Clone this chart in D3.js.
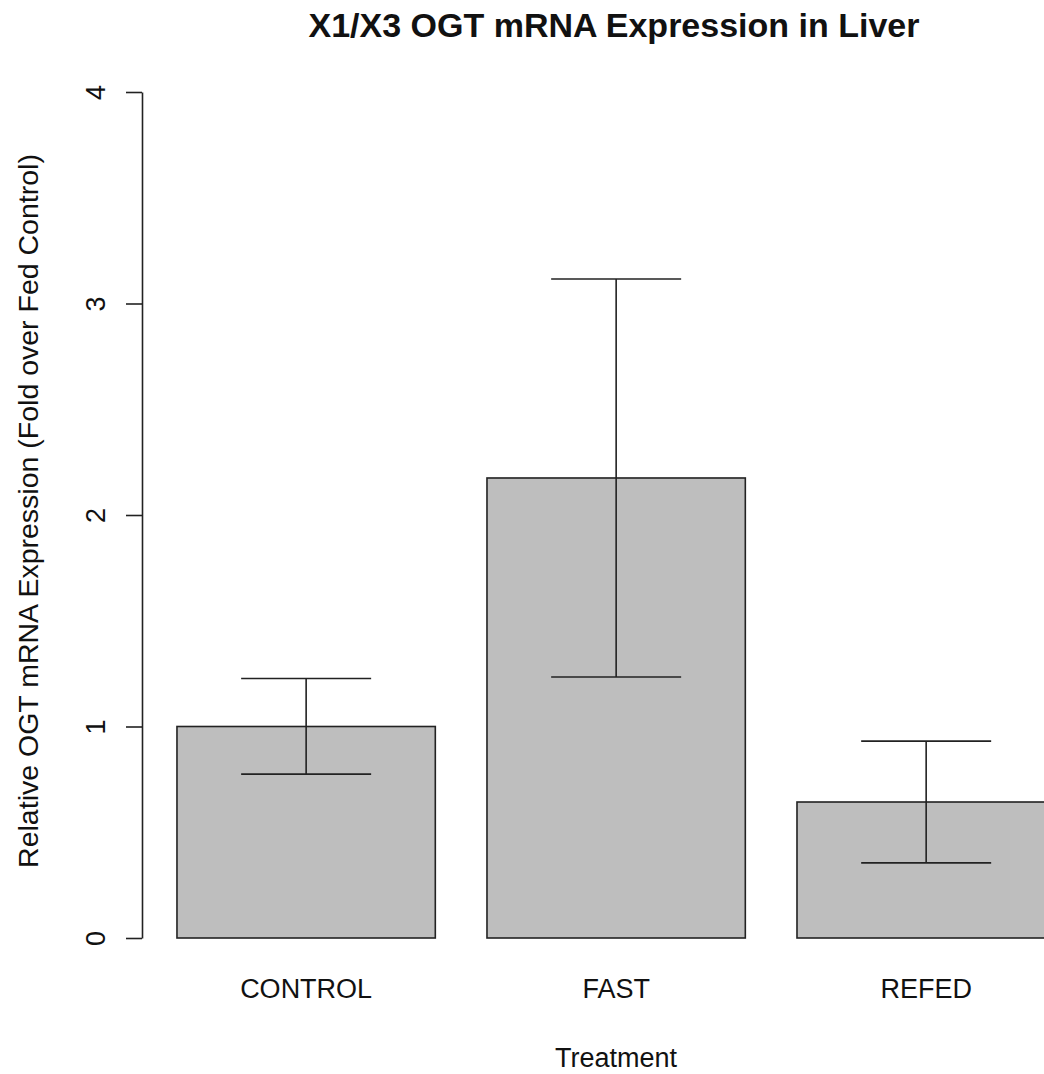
<!DOCTYPE html>
<html>
<head>
<meta charset="utf-8">
<script src="https://cdn.jsdelivr.net/npm/d3@7"></script>
<style>
  body { margin: 0; background: #fff; }
  svg text { font-family: "Liberation Sans", Arial, sans-serif; fill: #111; }
</style>
</head>
<body>
<div id="chart"></div>
<script>
// data
var categories = ["CONTROL", "FAST", "REFED"];
var means = [1.0, 2.175, 0.643];
var upper = [1.227, 3.116, 0.931];
var lower = [0.775, 1.234, 0.355];
var yTicks = [0, 1, 2, 3, 4];

var width = 1044, height = 1074;

var svg = d3.select("#chart")
  .append("svg")
  .attr("width", width)
  .attr("height", height);

// y scale: 0 at 938px, 4 at 92px
var y = d3.scaleLinear()
  .domain([0, 4])
  .range([938, 92]);

// R barplot style spacing (space = 0.2)
var x = d3.scaleBand()
  .domain(categories)
  .range([125.3, 1107])
  .paddingInner(1 / 6)
  .paddingOuter(1 / 6);

var data = categories.map(function(c, i) {
  return {cat: c, mean: means[i], hi: upper[i], lo: lower[i]};
});

// bars
svg.append("g")
  .selectAll("rect")
  .data(data)
  .enter()
  .append("rect")
    .attr("x", function(d) { return x(d.cat); })
    .attr("y", function(d) { return y(d.mean); })
    .attr("width", x.bandwidth())
    .attr("height", function(d) { return y(0) - y(d.mean); })
    .style("fill", "#bebebe")
    .style("stroke", "#222")
    .style("stroke-width", 1.6);

// error bars
var capHalf = 65;
var err = svg.append("g")
  .selectAll("g")
  .data(data)
  .enter()
  .append("g")
  .attr("transform", function(d) { return "translate(" + (x(d.cat) + x.bandwidth() / 2) + ",0)"; })
  .style("stroke", "#222")
  .style("stroke-width", 1.6);

err.append("line")
  .attr("x1", 0).attr("x2", 0)
  .attr("y1", function(d) { return y(d.lo); })
  .attr("y2", function(d) { return y(d.hi); });
err.append("line")
  .attr("x1", -capHalf).attr("x2", capHalf)
  .attr("y1", function(d) { return y(d.hi); })
  .attr("y2", function(d) { return y(d.hi); });
err.append("line")
  .attr("x1", -capHalf).attr("x2", capHalf)
  .attr("y1", function(d) { return y(d.lo); })
  .attr("y2", function(d) { return y(d.lo); });

// y axis
var yAxis = svg.append("g")
  .attr("transform", "translate(142,0)")
  .call(d3.axisLeft(y).tickValues(yTicks).tickSize(16).tickSizeOuter(0).tickFormat(d3.format("d")));
yAxis.selectAll("path, line").style("stroke", "#222").style("stroke-width", 1.6);
yAxis.selectAll("text")
  .attr("x", 0).attr("y", 0).attr("dy", null)
  .attr("transform", "translate(-46,0) rotate(-90)")
  .style("text-anchor", "middle")
  .attr("dominant-baseline", "central")
  .style("font-size", "27px")
  .style("font-family", "'Liberation Sans', Arial, sans-serif")
  .style("fill", "#111");

// category labels
svg.append("g")
  .selectAll("text")
  .data(categories)
  .enter()
  .append("text")
    .attr("x", function(d) { return x(d) + x.bandwidth() / 2; })
    .attr("y", 998)
    .attr("text-anchor", "middle")
    .style("font-size", "27px")
    .text(function(d) { return d; });

// titles
svg.append("text")
  .attr("x", 614)
  .attr("y", 37)
  .attr("text-anchor", "middle")
  .style("font-size", "34px")
  .style("font-weight", "bold")
  .text("X1/X3 OGT mRNA Expression in Liver");

svg.append("text")
  .attr("x", 616)
  .attr("y", 1067)
  .attr("text-anchor", "middle")
  .style("font-size", "27px")
  .text("Treatment");

svg.append("text")
  .attr("transform", "translate(38,511) rotate(-90)")
  .attr("text-anchor", "middle")
  .style("font-size", "28.5px")
  .text("Relative OGT mRNA Expression (Fold over Fed Control)");
</script>
</body>
</html>
